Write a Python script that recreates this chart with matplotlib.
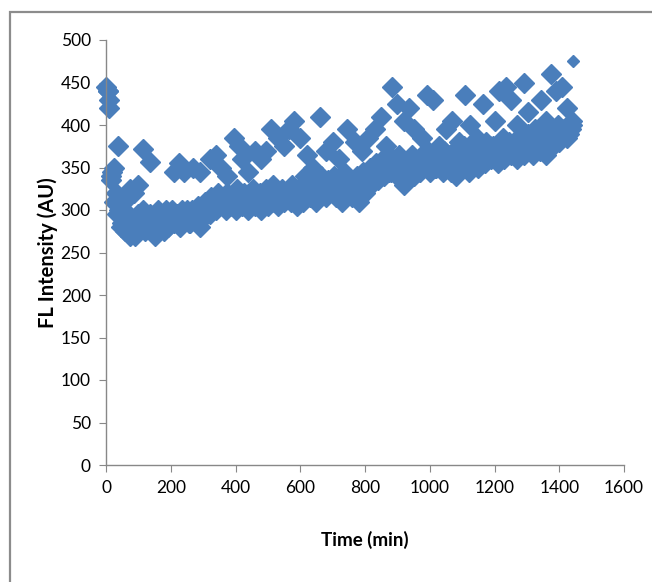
import matplotlib
matplotlib.use("Agg")
import matplotlib.pyplot as plt
from matplotlib.patches import Rectangle

# Lower (dense) band: time (min) and FL intensity (AU)
t_low = list(range(0, 1450, 10))
fl_low = [445, 430, 345, 320, 300, 285, 275, 290, 280, 270,
          295, 285, 275, 290, 280, 270, 285, 295, 275, 280,
          290, 285, 295, 280, 290, 300, 285, 295, 285, 280,
          300, 305, 295, 310, 300, 305, 315, 300, 310, 305,
          300, 315, 305, 310, 300, 320, 305, 310, 300, 315,
          305, 320, 310, 305, 315, 310, 320, 310, 315, 305,
          320, 310, 330, 315, 325, 310, 335, 320, 315, 325,
          330, 315, 320, 310, 335, 320, 315, 325, 310, 330,
          320, 340, 330, 345, 335, 350, 340, 355, 345, 350,
          340, 355, 330, 345, 360, 340, 355, 345, 350, 360,
          345, 355, 350, 365, 345, 360, 350, 355, 340, 360,
          350, 365, 345, 355, 370, 350, 360, 355, 370, 360,
          365, 355, 375, 360, 370, 365, 380, 360, 375, 365,
          380, 370, 365, 385, 370, 375, 365, 385, 375, 390,
          380, 385, 395, 390, 400]

# Middle band (interleaved readings)
t_mid = list(range(5, 1440, 10))
fl_mid = [440, 335, 310, 295, 280, 300, 285, 270, 290, 280,
          285, 300, 280, 295, 275, 290, 280, 290, 300, 285,
          300, 290, 285, 300, 295, 285, 300, 290, 305, 290,
          310, 300, 315, 305, 320, 310, 305, 320, 315, 310,
          325, 310, 320, 315, 310, 325, 315, 320, 310, 325,
          315, 330, 320, 315, 325, 320, 315, 330, 320, 325,
          330, 340, 325, 335, 330, 320, 340, 330, 335, 325,
          340, 330, 325, 345, 330, 335, 325, 340, 320, 345,
          335, 350, 345, 355, 350, 360, 355, 345, 360, 355,
          365, 345, 355, 350, 365, 355, 345, 365, 355, 370,
          360, 350, 365, 355, 370, 365, 345, 370, 365, 355,
          375, 355, 365, 375, 360, 370, 365, 380, 365, 375,
          370, 360, 385, 370, 380, 375, 365, 385, 370, 380,
          390, 375, 385, 375, 395, 385, 380, 395, 385, 400,
          390, 395, 385, 395]

# Upper (scattered) points
t_up = [5, 8, 15, 25, 38, 55, 75, 85, 100, 115, 135, 160, 210, 225, 240,
        270, 290, 320, 340, 355, 375, 395, 410, 420, 440, 460, 480, 495,
        510, 530, 550, 565, 580, 600, 620, 640, 660, 680, 700, 720, 745,
        770, 790, 810, 830, 850, 865, 883, 900, 920, 935, 950, 975, 990,
        1010, 1030, 1050, 1070, 1090, 1110, 1125, 1145, 1165, 1185, 1200,
        1215, 1235, 1250, 1270, 1290, 1305, 1325, 1345, 1360, 1375, 1390,
        1410, 1425, 1440]
fl_up = [440, 420, 340, 350, 375, 310, 325, 320, 330, 372, 357, 300, 345,
         355, 345, 350, 345, 360, 365, 350, 340, 385, 375, 360, 345, 370,
         360, 370, 395, 385, 375, 395, 405, 385, 365, 350, 410, 370, 380,
         360, 395, 380, 370, 385, 395, 410, 375, 445, 425, 405, 420, 395,
         385, 435, 430, 375, 395, 405, 380, 435, 400, 385, 425, 375, 405,
         440, 445, 430, 400, 450, 415, 395, 430, 405, 460, 440, 445, 420,
         405]

# Last small point
t_last = [1443]
fl_last = [475]

xticks = [0, 200, 400, 600, 800, 1000, 1200, 1400, 1600]
yticks = [0, 50, 100, 150, 200, 250, 300, 350, 400, 450, 500]

fam = ['Lato', 'DejaVu Sans']
color = '#4A7EBB'

fig = plt.figure(figsize=(6.52, 5.82), dpi=100)
fig.patches.append(Rectangle((10/652, -0.05), 1.1, 1 - 12/582 + 0.05,
                             transform=fig.transFigure, fill=False,
                             edgecolor='#8c8c8c', linewidth=1.6))
ax = fig.add_axes([106/652, 1 - 465/582, 518/652, 425/582])

for tx, ty in [(t_low, fl_low), (t_mid, fl_mid), (t_up, fl_up)]:
    ax.plot(tx, ty, linestyle='none', marker='D', markersize=10.5,
            color=color, markeredgecolor=color, clip_on=False)
ax.plot(t_last, fl_last, linestyle='none', marker='D', markersize=6,
        color=color, markeredgecolor=color, clip_on=False)

ax.set_xlim(0, 1600)
ax.set_ylim(0, 500)
ax.set_xticks(xticks)
ax.set_yticks(yticks)
ax.set_xticklabels([str(v) for v in xticks], fontfamily=fam, fontsize=12.5)
ax.set_yticklabels([str(v) for v in yticks], fontfamily=fam, fontsize=12.5)
for s in ['top', 'right']:
    ax.spines[s].set_visible(False)
for s in ['left', 'bottom']:
    ax.spines[s].set_color('#888888')
    ax.spines[s].set_linewidth(1.0)
ax.tick_params(axis='both', direction='out', length=5, color='#888888',
               labelcolor='black', pad=6)

ax.set_xlabel('Time (min)', fontfamily=fam, fontsize=13.5, fontweight='bold',
              labelpad=25)
ax.set_ylabel('FL Intensity (AU)', fontfamily=fam, fontsize=14.5,
              fontweight='bold', labelpad=2)

fig.savefig('out.png', dpi=100)
